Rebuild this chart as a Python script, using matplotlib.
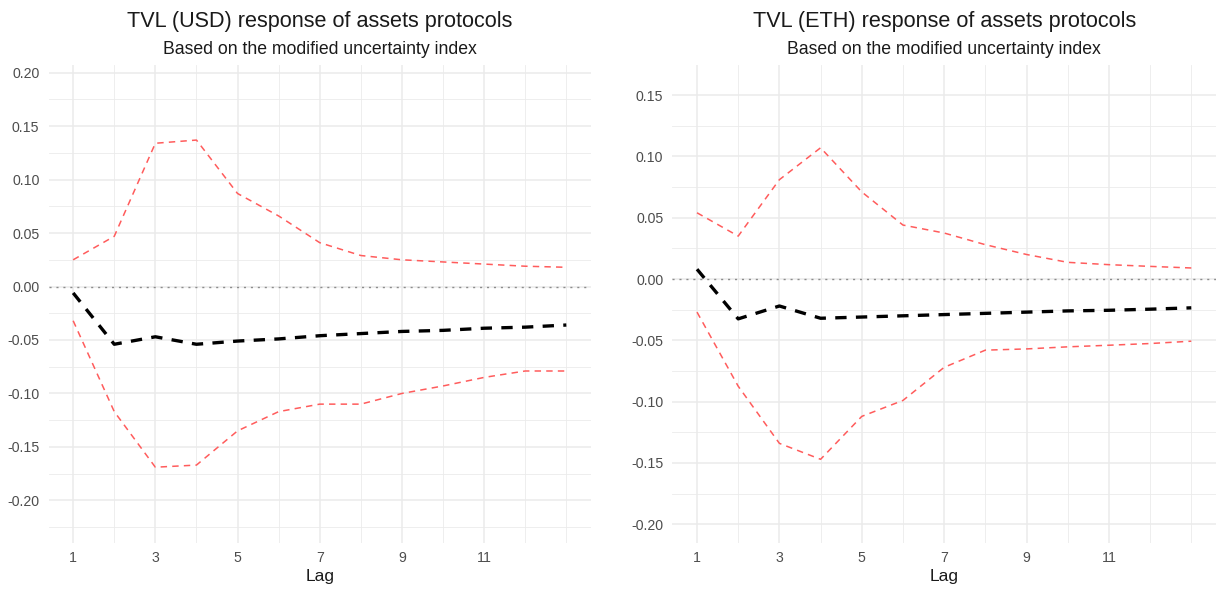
import matplotlib
matplotlib.use("Agg")
import matplotlib.pyplot as plt

plt.rcParams['font.family'] = ['Liberation Sans', 'DejaVu Sans']

# Impulse responses over lags 1..13 with bootstrap bounds
lags = list(range(1, 14))

usd_irf = [-0.006, -0.054, -0.047, -0.054, -0.051, -0.049, -0.046, -0.044,
           -0.042, -0.041, -0.039, -0.038, -0.036]
usd_upper = [0.025, 0.047, 0.134, 0.137, 0.087, 0.066, 0.041, 0.029,
             0.025, 0.023, 0.021, 0.019, 0.018]
usd_lower = [-0.032, -0.117, -0.169, -0.167, -0.135, -0.117, -0.110, -0.110,
             -0.100, -0.093, -0.085, -0.079, -0.079]

eth_irf = [0.008, -0.0325, -0.022, -0.032, -0.031, -0.030, -0.029, -0.028,
           -0.027, -0.026, -0.0255, -0.0246, -0.0235]
eth_upper = [0.054, 0.035, 0.081, 0.107, 0.071, 0.044, 0.0375, 0.028,
             0.020, 0.0136, 0.0117, 0.0103, 0.009]
eth_lower = [-0.027, -0.0874, -0.134, -0.147, -0.112, -0.099, -0.072, -0.058,
             -0.057, -0.0553, -0.054, -0.0526, -0.0507]

x_ticks = [1, 3, 5, 7, 9, 11]
x_tick_labels = ['1', '3', '5', '7', '9', '11']

usd_y_ticks = [-0.20, -0.15, -0.10, -0.05, 0.00, 0.05, 0.10, 0.15, 0.20]
usd_y_labels = ['-0.20', '-0.15', '-0.10', '-0.05', '0.00', '0.05', '0.10', '0.15', '0.20']
eth_y_ticks = [-0.20, -0.15, -0.10, -0.05, 0.00, 0.05, 0.10, 0.15]
eth_y_labels = ['-0.20', '-0.15', '-0.10', '-0.05', '0.00', '0.05', '0.10', '0.15']

titles = ['TVL (USD) response of assets protocols', 'TVL (ETH) response of assets protocols']
subtitle = 'Based on the modified uncertainty index'
x_label = 'Lag'

W, H = 1217, 591
fig = plt.figure(figsize=(W / 100, H / 100), dpi=100)

GRID = '#EBEBEB'
RED = '#FF5C5C'


def px_axes(x0, x1, y0, y1):
    return fig.add_axes([x0 / W, 1 - y1 / H, (x1 - x0) / W, (y1 - y0) / H])


def draw_panel(ax, irf, upper, lower, yticks, ylabels, ylim, title):
    ax.set_xlim(0.4, 13.6)
    ax.set_ylim(*ylim)
    for s in ax.spines.values():
        s.set_visible(False)

    # grid: majors at labelled breaks, minors in between
    y_minor = [v + 0.025 for v in yticks[:-1]]
    y_minor = [v for v in [yticks[0] - 0.025] + y_minor + [yticks[-1] + 0.025]
               if ylim[0] < v < ylim[1] - 0.001]
    x_minor = [2, 4, 6, 8, 10, 12, 13]
    for v in y_minor:
        ax.axhline(v, color=GRID, lw=0.6, zorder=0)
    for v in yticks:
        ax.axhline(v, color=GRID, lw=1.1, zorder=0)
    for v in x_minor:
        ax.axvline(v, color=GRID, lw=0.6, zorder=0)
    for v in x_ticks:
        ax.axvline(v, color=GRID, lw=1.1, zorder=0)

    ax.axhline(0, color='#8C8C8C', lw=1.0, dashes=(1.5, 3.5), zorder=1)

    ax.plot(lags, upper, color=RED, lw=1.1, dashes=(4.2, 3.4), zorder=2)
    ax.plot(lags, lower, color=RED, lw=1.1, dashes=(4.2, 3.4), zorder=2)
    ax.plot(lags, irf, color='black', lw=2.4, dashes=(3.4, 2.8), zorder=3)

    ax.set_xticks(x_ticks)
    ax.set_xticklabels(x_tick_labels)
    ax.set_yticks(yticks)
    ax.set_yticklabels(ylabels)
    ax.tick_params(axis='both', length=0, labelsize=10.2, labelcolor='#4D4D4D')
    ax.tick_params(axis='y', pad=6.5)
    ax.tick_params(axis='x', pad=6.0)
    ax.set_facecolor('white')

    cx = (ax.get_position().x0 + ax.get_position().x1) / 2
    fig.text(cx, 1 - 27.3 / H, title, ha='center', va='baseline', fontsize=15.6, color='#1A1A1A')
    fig.text(cx, 1 - 54.3 / H, subtitle, ha='center', va='baseline', fontsize=12.7, color='#1A1A1A')
    fig.text(cx, 1 - 581 / H, x_label, ha='center', va='baseline', fontsize=12.5, color='#1A1A1A')


ax1 = px_axes(48.5, 591.0, 65.0, 542.7)
draw_panel(ax1, usd_irf, usd_upper, usd_lower, usd_y_ticks, usd_y_labels,
           (-0.2396, 0.2072), titles[0])

ax2 = px_axes(672.3, 1216.0, 65.0, 542.7)
draw_panel(ax2, eth_irf, eth_upper, eth_lower, eth_y_ticks, eth_y_labels,
           (-0.215, 0.1745), titles[1])

fig.savefig('out.png', dpi=100, facecolor='white')
